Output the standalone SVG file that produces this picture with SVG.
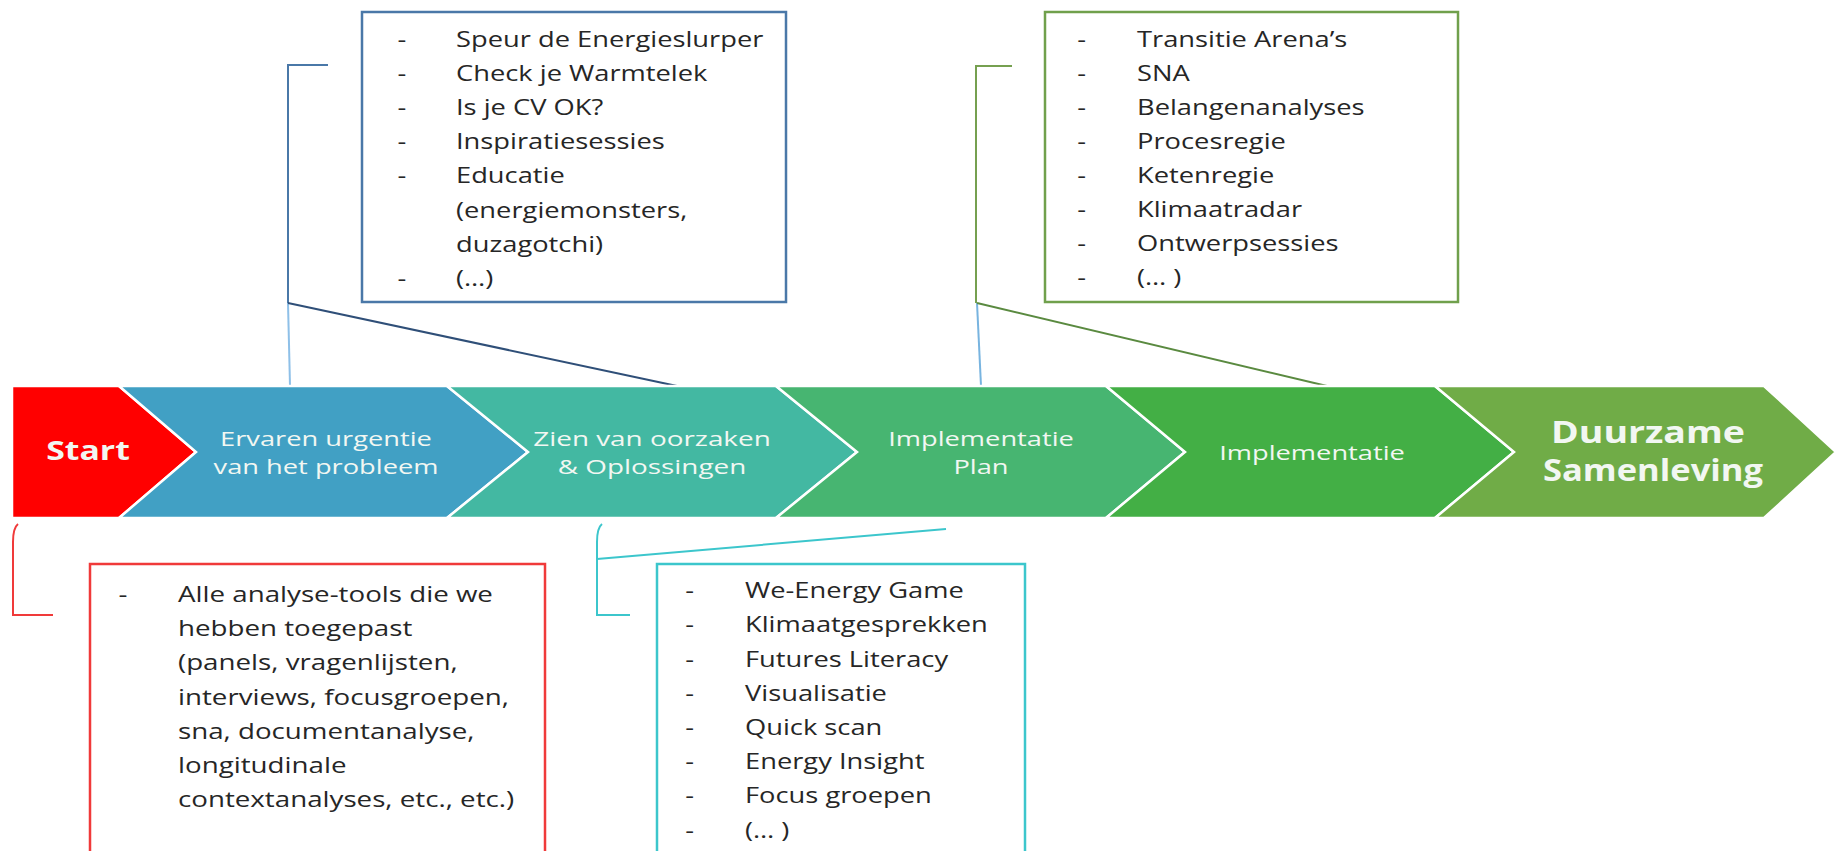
<svg xmlns="http://www.w3.org/2000/svg" width="1836" height="851" viewBox="0 0 1836 851">
<style>
.chev{stroke:#ffffff;stroke-width:2.5;stroke-linejoin:miter}
.lbl{font-family:"Open Sans",Lato,sans-serif;fill:#F2F7F2;text-anchor:middle;font-size:20.5px}
.big{font-size:30px;font-weight:bold}
.box{fill:#ffffff;stroke-width:2.5}
.txt{font-family:"Open Sans",Lato,sans-serif;font-size:21px;fill:#262626}
.con{fill:none;stroke-width:2}
</style>
<rect width="1836" height="851" fill="#ffffff"/>
<g id="connectors">
  <path class="con" d="M328,65 L288,65 L288,303" stroke="#4A78A8"/>
  <path class="con" d="M288,303 L290,386" stroke="#8EC0E8"/>
  <path class="con" d="M288,303 L677,386" stroke="#2F4F78"/>
  <path class="con" d="M1012,66 L976,66 L976,303" stroke="#76A050"/>
  <path class="con" d="M977,303 L981,386" stroke="#78B4E0"/>
  <path class="con" d="M977,303 L1327,386" stroke="#5A8A40"/>
  <path class="con" d="M18,524 Q13,528 13,542 L13,615 L53,615" stroke="#F03A3A"/>
  <path class="con" d="M602,524 Q597,528 597,542 L597,615 L630,615" stroke="#3CC6CC"/>
  <path class="con" d="M597,559 L946,529" stroke="#3CC6CC"/>
</g>
<g id="chevrons">
  <g id="n-start">
    <polygon class="chev" fill="#FF0000" points="12,386 119,386 196,452 119,518 12,518"/>
    <text class="lbl big" transform="translate(88,460) scale(1.3,1)" style="font-size:26px">Start</text>
  </g>
  <g id="n-ervaren">
    <polygon class="chev" fill="#41A0C4" points="119,386 447,386 528,452 447,518 119,518 196,452"/>
    <text class="lbl" transform="translate(326,446) scale(1.33,1)">Ervaren urgentie</text>
    <text class="lbl" transform="translate(326,474) scale(1.33,1)">van het probleem</text>
  </g>
  <g id="n-zien">
    <polygon class="chev" fill="#43B8A2" points="447,386 776,386 857,452 776,518 447,518 528,452"/>
    <text class="lbl" transform="translate(652,446) scale(1.36,1)">Zien van oorzaken</text>
    <text class="lbl" transform="translate(652,474) scale(1.36,1)">&amp; Oplossingen</text>
  </g>
  <g id="n-implplan">
    <polygon class="chev" fill="#47B571" points="776,386 1106,386 1185,452 1106,518 776,518 857,452"/>
    <text class="lbl" transform="translate(981,446) scale(1.33,1)">Implementatie</text>
    <text class="lbl" transform="translate(981,474) scale(1.33,1)">Plan</text>
  </g>
  <g id="n-impl">
    <polygon class="chev" fill="#43AF45" points="1106,386 1435,386 1514,452 1435,518 1106,518 1185,452"/>
    <text class="lbl" transform="translate(1312,460) scale(1.33,1)">Implementatie</text>
  </g>
  <g id="n-duurzaam">
    <polygon class="chev" fill="#70AC47" points="1435,386 1764,386 1836,452 1764,518 1435,518 1514,452"/>
    <text class="lbl big" transform="translate(1648,443) scale(1.25,1)">Duurzame</text>
    <text class="lbl big" transform="translate(1653,481) scale(1.15,1)">Samenleving</text>
  </g>
</g>
<g id="box-urgentie">
  <rect class="box" x="362" y="12" width="424" height="290" stroke="#4A78A8"/>
  <g class="txt" transform="translate(456,0) scale(1.3,1)">
    <text x="-45" y="47">-</text><text x="0" y="47">Speur de Energieslurper</text>
    <text x="-45" y="81">-</text><text x="0" y="81">Check je Warmtelek</text>
    <text x="-45" y="115">-</text><text x="0" y="115">Is je CV OK?</text>
    <text x="-45" y="149">-</text><text x="0" y="149">Inspiratiesessies</text>
    <text x="-45" y="183">-</text><text x="0" y="183">Educatie</text>
    <text x="0" y="218">(energiemonsters,</text>
    <text x="0" y="252">duzagotchi)</text>
    <text x="-45" y="286">-</text><text x="0" y="286">(…)</text>
  </g>
</g>
<g id="box-plan">
  <rect class="box" x="1045" y="12" width="413" height="290" stroke="#70A04C"/>
  <g class="txt" transform="translate(1137,0) scale(1.3,1)">
    <text x="-46" y="47">-</text><text x="0" y="47">Transitie Arena’s</text>
    <text x="-46" y="81">-</text><text x="0" y="81">SNA</text>
    <text x="-46" y="115">-</text><text x="0" y="115">Belangenanalyses</text>
    <text x="-46" y="149">-</text><text x="0" y="149">Procesregie</text>
    <text x="-46" y="183">-</text><text x="0" y="183">Ketenregie</text>
    <text x="-46" y="217">-</text><text x="0" y="217">Klimaatradar</text>
    <text x="-46" y="251">-</text><text x="0" y="251">Ontwerpsessies</text>
    <text x="-46" y="285">-</text><text x="0" y="285">(… )</text>
  </g>
</g>
<g id="box-start">
  <rect class="box" x="90" y="564" width="455" height="300" stroke="#F03A3A"/>
  <g class="txt" transform="translate(178,0) scale(1.32,1)">
    <text x="-45" y="602">-</text><text x="0" y="602">Alle analyse-tools die we</text>
    <text x="0" y="636">hebben toegepast</text>
    <text x="0" y="670">(panels, vragenlijsten,</text>
    <text x="0" y="705">interviews, focusgroepen,</text>
    <text x="0" y="739">sna, documentanalyse,</text>
    <text x="0" y="773">longitudinale</text>
    <text x="0" y="807">contextanalyses, etc., etc.)</text>
  </g>
</g>
<g id="box-oplossingen">
  <rect class="box" x="657" y="564" width="368" height="300" stroke="#3CC6CC"/>
  <g class="txt" transform="translate(745,0) scale(1.3,1)">
    <text x="-46" y="598">-</text><text x="0" y="598">We-Energy Game</text>
    <text x="-46" y="632">-</text><text x="0" y="632">Klimaatgesprekken</text>
    <text x="-46" y="667">-</text><text x="0" y="667">Futures Literacy</text>
    <text x="-46" y="701">-</text><text x="0" y="701">Visualisatie</text>
    <text x="-46" y="735">-</text><text x="0" y="735">Quick scan</text>
    <text x="-46" y="769">-</text><text x="0" y="769">Energy Insight</text>
    <text x="-46" y="803">-</text><text x="0" y="803">Focus groepen</text>
    <text x="-46" y="838">-</text><text x="0" y="838">(… )</text>
  </g>
</g>
</svg>
